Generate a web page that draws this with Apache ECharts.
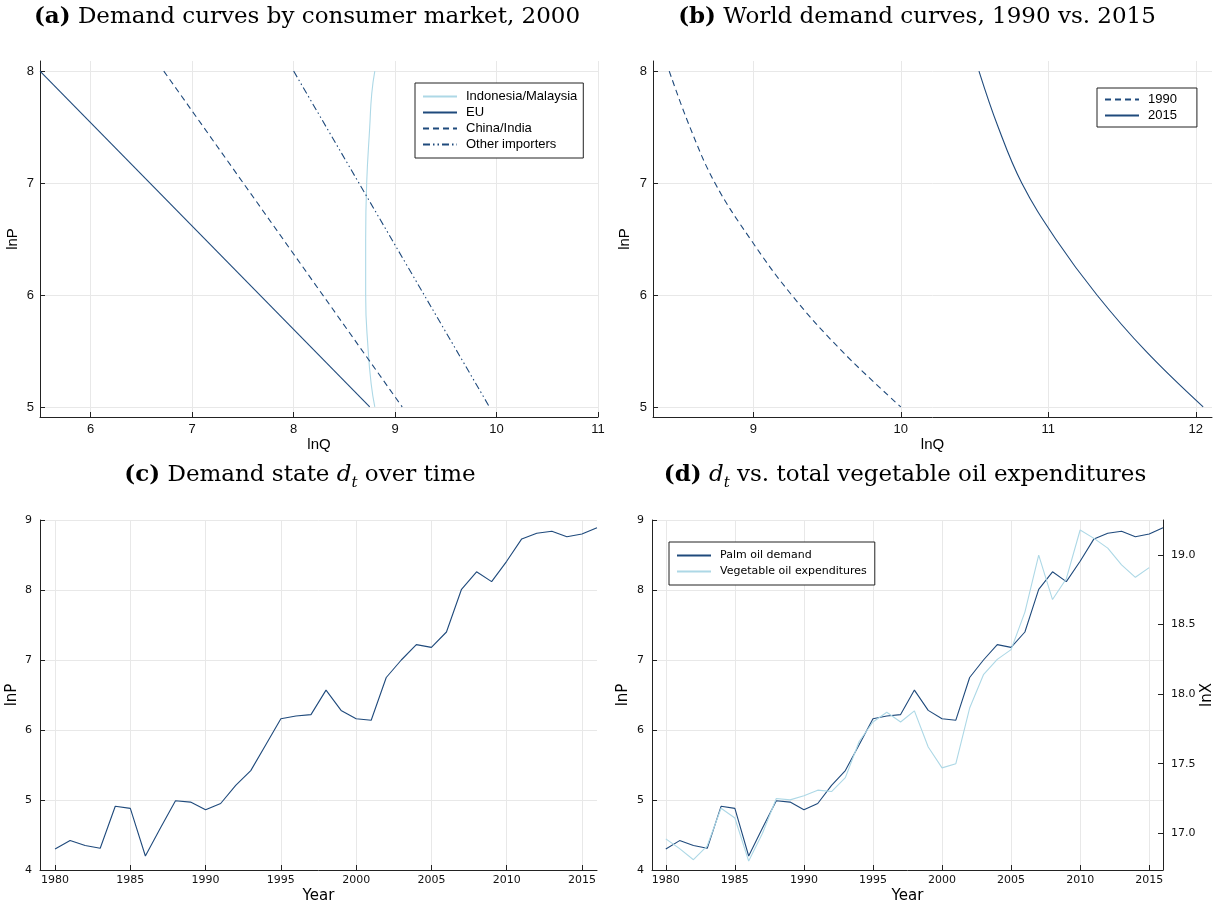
<!DOCTYPE html>
<html><head><meta charset="utf-8">
<script src="https://cdn.jsdelivr.net/npm/echarts@6/dist/echarts.min.js"></script>
<style>html,body{margin:0;padding:0;background:#fff}#c{width:1225px;height:911px}</style>
</head><body><div id="c"></div>
<script>
// ---- Panel (a): demand curves by consumer market, 2000 (lnQ at given lnP) ----
const aPriceCurve = [8, 7.8, 7.5, 7, 6.5, 6, 5.5, 5.2, 5];
const aIndoMal    = [8.80, 8.77, 8.75, 8.72, 8.71, 8.71, 8.735, 8.765, 8.80];
const aPriceLine  = [8, 5];
const aEU         = [5.50, 8.75];
const aChinaIndia = [6.72, 9.07];
const aOther      = [8.00, 9.93];
const aXTicks = [6, 7, 8, 9, 10, 11];
const abYTicks = [5, 6, 7, 8];

// ---- Panel (b): world demand curves ----
const bPrice = [8, 7.5, 7, 6.5, 6, 5.5, 5];
const b1990  = [8.43, 8.57, 8.74, 8.98, 9.26, 9.60, 10.00];
const b2015  = [10.53, 10.66, 10.82, 11.05, 11.33, 11.66, 12.05];
const bXTicks = [9, 10, 11, 12];

// ---- Panels (c),(d): demand state over time ----
const years = [1980,1981,1982,1983,1984,1985,1986,1987,1988,1989,1990,1991,1992,1993,1994,1995,1996,1997,1998,1999,2000,2001,2002,2003,2004,2005,2006,2007,2008,2009,2010,2011,2012,2013,2014,2015,2016];
const palmDemand = [4.30,4.42,4.35,4.31,4.91,4.88,4.20,4.60,4.99,4.97,4.86,4.95,5.21,5.42,5.79,6.16,6.20,6.22,6.57,6.28,6.16,6.14,6.75,7.00,7.22,7.18,7.40,8.01,8.26,8.12,8.41,8.73,8.81,8.84,8.76,8.80,8.89];
const vegExpYears = years.slice(0, 36);
const vegExp = [16.96,16.89,16.81,16.91,17.18,17.11,16.80,17.00,17.25,17.24,17.27,17.31,17.30,17.40,17.66,17.80,17.87,17.80,17.88,17.62,17.47,17.50,17.90,18.14,18.25,18.32,18.59,19.00,18.68,18.83,19.18,19.12,19.05,18.93,18.84,18.91];
const yearTicks = [1980,1985,1990,1995,2000,2005,2010,2015];
const lnXTicks = [17.0,17.5,18.0,18.5,19.0];

const dark = '#1f4a7c', light = '#add8e6';
const sansA = 'Liberation Sans', sansC = 'DejaVu Sans', serif = 'DejaVu Serif';
const pairs = (xs, ys) => xs.map((x, i) => [x, ys[i]]);

function valAxis(o) {
  const ax = {
    type: 'value', gridIndex: o.grid, min: o.min, max: o.max,
    position: o.position,
    name: o.name, nameLocation: 'middle', nameGap: o.nameGap,
    nameTextStyle: { fontFamily: o.font, fontSize: 15, color: '#000' },
    axisLine: { show: true, onZero: false, lineStyle: { color: '#222', width: 1 } },
    axisTick: { show: true, inside: true, length: 5, lineStyle: { color: '#222' } },
    axisLabel: { fontFamily: o.font, fontSize: o.fs || 13, color: '#111', margin: o.margin || 6,
      formatter: o.fmt || (v => String(v)) },
    splitLine: { show: o.split !== false, lineStyle: { color: '#e8e8e8', width: 1 } }
  };
  if (o.ticks) { ax.axisTick.customValues = o.ticks; ax.axisLabel.customValues = o.ticks; }
  if (o.interval) ax.interval = o.interval;
  if (o.nameRotate !== undefined) ax.nameRotate = o.nameRotate;
  return ax;
}

const TF = 23;
const titleRich = {
  b: { fontFamily: serif, fontSize: TF, fontWeight: 'bold', color: '#000', lineHeight: 32 },
  i: { fontFamily: serif, fontSize: TF, fontStyle: 'italic', color: '#000', lineHeight: 32 },
  s: { fontFamily: serif, fontSize: 15, fontStyle: 'italic', color: '#000', lineHeight: 17, verticalAlign: 'bottom' }
};
function mkTitle(text, x, y) {
  return { text, left: x, top: y, textAlign: 'center', padding: 0,
    textStyle: { fontFamily: serif, fontSize: TF, fontWeight: 'normal', color: '#000', lineHeight: 32, rich: titleRich } };
}
function mkLegend(names, left, top, font, fs, pad, gap) {
  return { data: names, orient: 'vertical', left, top, selectedMode: false,
    itemWidth: 34, itemHeight: 10, itemGap: gap, padding: pad,
    borderColor: '#222', borderWidth: 1, backgroundColor: '#fff', borderRadius: 0,
    itemStyle: { opacity: 0, borderWidth: 0 },
    textStyle: { fontFamily: font, fontSize: fs, color: '#000', padding: [0, 0, 0, 4] } };
}
function line(name, x, y, data, color, type, yi) {
  return { type: 'line', name, xAxisIndex: x, yAxisIndex: yi === undefined ? x : yi, data,
    showSymbol: false, symbol: 'none', smooth: false, animation: false,
    lineStyle: { color, width: 1.1, type: type || 'solid' }, itemStyle: { color } };
}

const option = {
  animation: false,
  backgroundColor: '#fff',
  title: [
    mkTitle('{b|(a)} Demand curves by consumer market, 2000', 307, 1),
    mkTitle('{b|(b)} World demand curves, 1990 vs. 2015', 917, 1),
    mkTitle('{b|(c)} Demand state {i|d}{s|t} over time', 300, 459),
    mkTitle('{b|(d)} {i|d}{s|t} vs. total vegetable oil expenditures', 905, 459)
  ],
  grid: [
    { left: 40, top: 61, width: 558, height: 356, outerBoundsMode: 'none', containLabel: false },
    { left: 653, top: 61, width: 559, height: 356, outerBoundsMode: 'none', containLabel: false },
    { left: 40, top: 520, width: 557, height: 350, outerBoundsMode: 'none', containLabel: false },
    { left: 652, top: 520, width: 511, height: 350, outerBoundsMode: 'none', containLabel: false }
  ],
  xAxis: [
    valAxis({ grid: 0, min: 5.5, max: 11, ticks: aXTicks, name: 'lnQ', nameGap: 16, font: sansA }),
    valAxis({ grid: 1, min: 8.32, max: 12.11, ticks: bXTicks, name: 'lnQ', nameGap: 16, font: sansA }),
    valAxis({ grid: 2, min: 1979, max: 2016, ticks: yearTicks, name: 'Year', nameGap: 19, font: sansC, fs: 11, margin: 5 }),
    valAxis({ grid: 3, min: 1979, max: 2016, ticks: yearTicks, name: 'Year', nameGap: 19, font: sansC, fs: 11, margin: 5 })
  ],
  yAxis: [
    valAxis({ grid: 0, min: 4.91, max: 8.09, ticks: abYTicks, name: 'lnP', nameGap: 20, font: sansA }),
    valAxis({ grid: 1, min: 4.91, max: 8.09, ticks: abYTicks, name: 'lnP', nameGap: 21, font: sansA }),
    valAxis({ grid: 2, min: 4, max: 9, interval: 1, name: 'lnP', nameGap: 20, font: sansC, fs: 11, margin: 8 }),
    valAxis({ grid: 3, min: 4, max: 9, interval: 1, name: 'lnP', nameGap: 21, font: sansC, fs: 11, margin: 8 }),
    valAxis({ grid: 3, min: 16.736, max: 19.252, ticks: lnXTicks, position: 'right', split: false,
      name: 'lnX', nameGap: 36, nameRotate: 90, font: sansC, fs: 11, margin: 8, fmt: v => v.toFixed(1) })
  ],
  legend: [
    mkLegend(['Indonesia/Malaysia', 'EU', 'China/India', 'Other importers'], 415, 83, sansA, 13, [7, 6, 7, 7], 3),
    mkLegend(['1990', '2015'], 1097, 88, sansA, 13, [5, 20, 5, 7], 3),
    mkLegend(['Palm oil demand', 'Vegetable oil expenditures'], 669, 542, sansC, 11, [8, 8, 8, 7], 5)
  ],
  series: [
    Object.assign(line('Indonesia/Malaysia', 0, 0, pairs(aIndoMal, aPriceCurve), light), { smooth: 0.5 }),
    line('EU', 0, 0, pairs(aEU, aPriceLine), dark),
    line('China/India', 0, 0, pairs(aChinaIndia, aPriceLine), dark, [6, 4]),
    line('Other importers', 0, 0, pairs(aOther, aPriceLine), dark, [7, 3, 1.5, 3, 1.5, 3]),
    Object.assign(line('1990', 1, 1, pairs(b1990, bPrice), dark, [6, 4]), { smooth: 0.4 }),
    Object.assign(line('2015', 1, 1, pairs(b2015, bPrice), dark), { smooth: 0.4 }),
    line('dt', 2, 2, pairs(years, palmDemand), dark),
    line('Palm oil demand', 3, 3, pairs(years, palmDemand), dark),
    line('Vegetable oil expenditures', 3, 3, pairs(vegExpYears, vegExp), light, 'solid', 4)
  ]
};
echarts.init(document.getElementById('c'), null, { renderer: 'canvas' }).setOption(option);
</script></body></html>
